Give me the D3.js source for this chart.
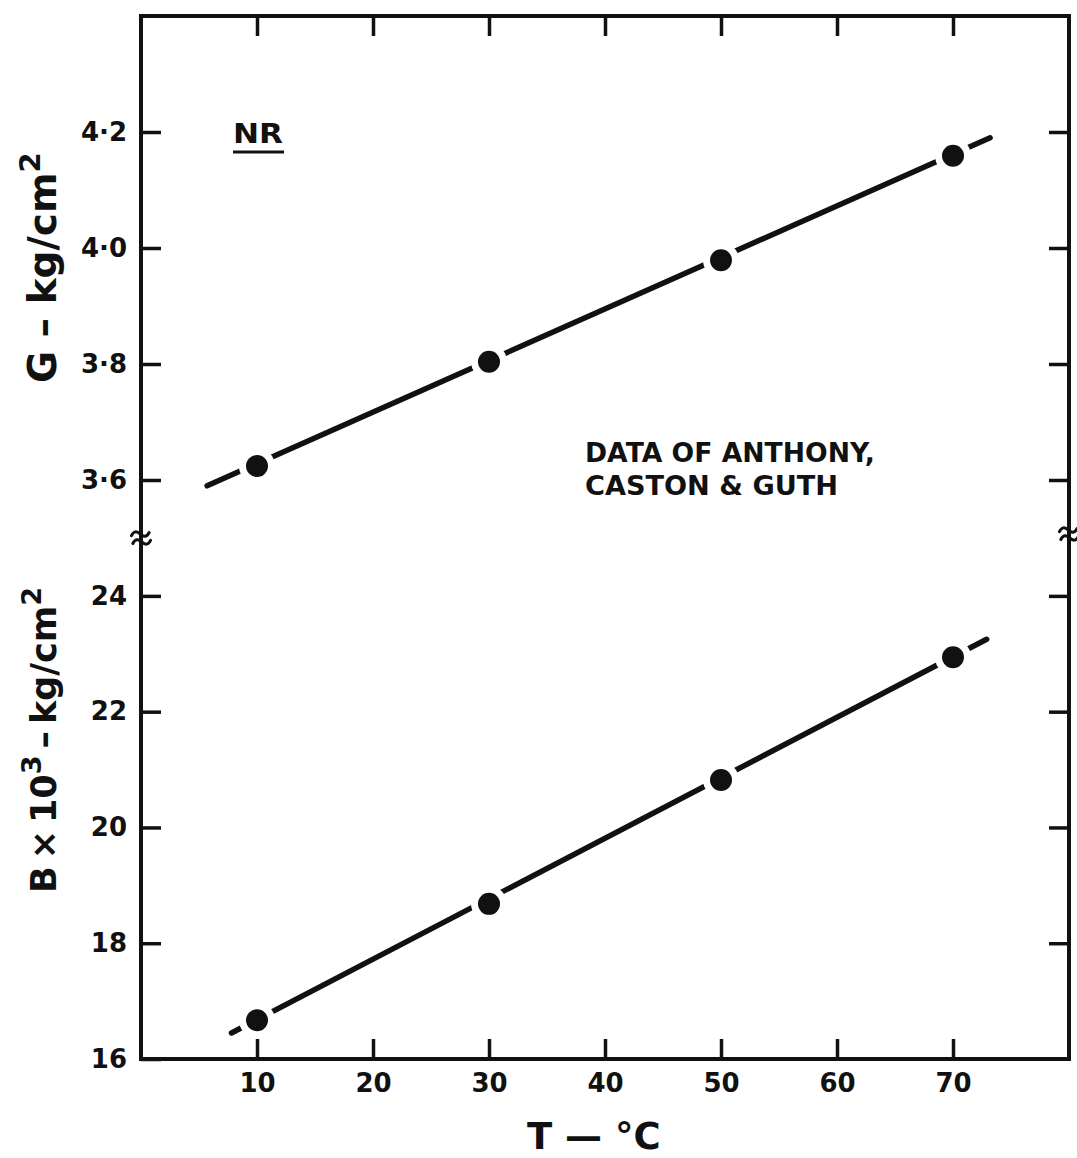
<!DOCTYPE html>
<html>
<head>
<meta charset="utf-8">
<script src="https://cdn.jsdelivr.net/npm/d3@7"></script>
<style>
  html, body { margin: 0; padding: 0; background: #fff; }
  svg { display: block; }
  text { font-family: "DejaVu Sans", "Liberation Sans", sans-serif; font-weight: bold; fill: #111; }
</style>
</head>
<body>
<svg id="chart" width="1077" height="1158"></svg>
<script>
// ---- data ----
const temps = [10, 30, 50, 70];
const gValues = [3.624, 3.804, 3.979, 4.159];        // G, kg/cm^2
const bValues = [16.67, 18.68, 20.82, 22.94];        // B x 10^3, kg/cm^2
const gFitT = [5.7, 73.2];
const gFitV = [3.59, 4.19];
const bFitT = [7.8, 72.9];
const bFitV = [16.45, 23.25];
const xTicks = [10, 20, 30, 40, 50, 60, 70];
const xTickLabels = ["10", "20", "30", "40", "50", "60", "70"];
const gTicks = [3.6, 3.8, 4.0, 4.2];
const gTickLabels = ["3·6", "3·8", "4·0", "4·2"];
const bTicks = [16, 18, 20, 22, 24];
const bTickLabels = ["16", "18", "20", "22", "24"];

// ---- scales ----
const svg = d3.select("#chart");
const x = d3.scaleLinear().domain([0, 80]).range([141, 1069]);
const yG = d3.scaleLinear().domain([3.5, 4.4]).range([538, 16]);
const yB = d3.scaleLinear().domain([16, 25]).range([1059, 538]);

const ink = "#111";

// frame
svg.append("rect")
  .attr("x", x(0)).attr("y", yG(4.4))
  .attr("width", x(80) - x(0)).attr("height", yB(16) - yG(4.4))
  .attr("fill", "none").attr("stroke", ink).attr("stroke-width", 4);

function styleAxis(g, fs) {
  g.select(".domain").remove();
  g.selectAll(".tick line").attr("stroke", ink).attr("stroke-width", 3.5);
  g.selectAll(".tick text").attr("fill", ink).style("font-size", fs + "px")
    .style("font-family", '"DejaVu Sans", sans-serif').style("font-weight", "bold");
}

// bottom axis
svg.append("g").attr("transform", `translate(0,${yB(16)})`)
  .call(d3.axisBottom(x).tickValues(xTicks).tickSize(-20).tickPadding(15)
    .tickFormat((d, i) => xTickLabels[i]))
  .call(g => styleAxis(g, 26));
// top axis (ticks only)
svg.append("g").attr("transform", `translate(0,${yG(4.4)})`)
  .call(d3.axisTop(x).tickValues(xTicks).tickSize(-20).tickFormat(""))
  .call(g => styleAxis(g, 26));
// left axes
svg.append("g").attr("transform", `translate(${x(0)},0)`)
  .call(d3.axisLeft(yG).tickValues(gTicks).tickSize(-20).tickPadding(14)
    .tickFormat((d, i) => gTickLabels[i]))
  .call(g => styleAxis(g, 26));
svg.append("g").attr("transform", `translate(${x(0)},0)`)
  .call(d3.axisLeft(yB).tickValues(bTicks).tickSize(-20).tickPadding(14)
    .tickFormat((d, i) => bTickLabels[i]))
  .call(g => styleAxis(g, 26));
// right axes (ticks only)
svg.append("g").attr("transform", `translate(${x(80)},0)`)
  .call(d3.axisRight(yG).tickValues(gTicks).tickSize(-20).tickFormat(""))
  .call(g => styleAxis(g, 25));
svg.append("g").attr("transform", `translate(${x(80)},0)`)
  .call(d3.axisRight(yB).tickValues(bTicks.filter(d => d > 16)).tickSize(-20).tickFormat(""))
  .call(g => styleAxis(g, 25));

// axis break marks
function breakMark(cx, cy) {
  const g = svg.append("g").attr("transform", `translate(${cx},${cy}) rotate(-10)`);
  [-4, 4].forEach(dy => {
    g.append("path")
      .attr("d", `M-9,${dy} q4.5,-6 9,0 t9,0`)
      .attr("fill", "none").attr("stroke", ink).attr("stroke-width", 3).attr("stroke-linecap", "round");
  });
}
breakMark(x(0), yG(3.5));
breakMark(x(80), yG(3.5) - 4);

// fitted lines
const lineG = d3.line().x(d => x(d[0])).y(d => yG(d[1]));
const lineB = d3.line().x(d => x(d[0])).y(d => yB(d[1]));
svg.append("path").datum(d3.zip(gFitT, gFitV)).attr("d", lineG)
  .attr("fill", "none").attr("stroke", ink).attr("stroke-width", 5.5).attr("stroke-linecap", "round");
svg.append("path").datum(d3.zip(bFitT, bFitV)).attr("d", lineB)
  .attr("fill", "none").attr("stroke", ink).attr("stroke-width", 5.5).attr("stroke-linecap", "round");

// points with white halo (gap in the line)
function dots(vals, y) {
  const pts = d3.zip(temps, vals);
  svg.append("g").selectAll("circle").data(pts).join("circle")
    .attr("cx", d => x(d[0])).attr("cy", d => y(d[1])).attr("r", 18).attr("fill", "#fff");
  svg.append("g").selectAll("circle").data(pts).join("circle")
    .attr("cx", d => x(d[0])).attr("cy", d => y(d[1])).attr("r", 11).attr("fill", ink);
}
dots(gValues, yG);
dots(bValues, yB);

// NR label
svg.append("text").attr("x", 233).attr("y", 143).style("font-size", "27px")
  .attr("textLength", 50).attr("lengthAdjust", "spacingAndGlyphs").text("NR");
svg.append("line").attr("x1", 233).attr("x2", 284).attr("y1", 152).attr("y2", 152)
  .attr("stroke", ink).attr("stroke-width", 3);

// annotation
svg.append("text").attr("x", 585).attr("y", 462).style("font-size", "27px")
  .attr("textLength", 290).attr("lengthAdjust", "spacingAndGlyphs").text("DATA OF ANTHONY,");
svg.append("text").attr("x", 585).attr("y", 495).style("font-size", "27px")
  .attr("textLength", 253).attr("lengthAdjust", "spacingAndGlyphs").text("CASTON & GUTH");

// y axis labels
const gl = svg.append("text").attr("transform", "translate(56,383) rotate(-90)")
  .style("font-size", "39px");
gl.append("tspan").text("G – kg/cm");
gl.append("tspan").attr("dy", -16).style("font-size", "29px").text("2");

const bl = svg.append("text").attr("transform", "translate(56,893) rotate(-90)")
  .style("font-size", "35px");
bl.append("tspan").text("B\u2009×\u200910");
bl.append("tspan").attr("dy", -15).style("font-size", "27px").text("3");
bl.append("tspan").attr("dy", 15).text("\u2009–\u2009kg/cm");
bl.append("tspan").attr("dy", -15).style("font-size", "27px").text("2");

// x axis label
svg.append("text").attr("x", 527).attr("y", 1149).style("font-size", "37px")
  .text("T — °C");
</script>
</body>
</html>
